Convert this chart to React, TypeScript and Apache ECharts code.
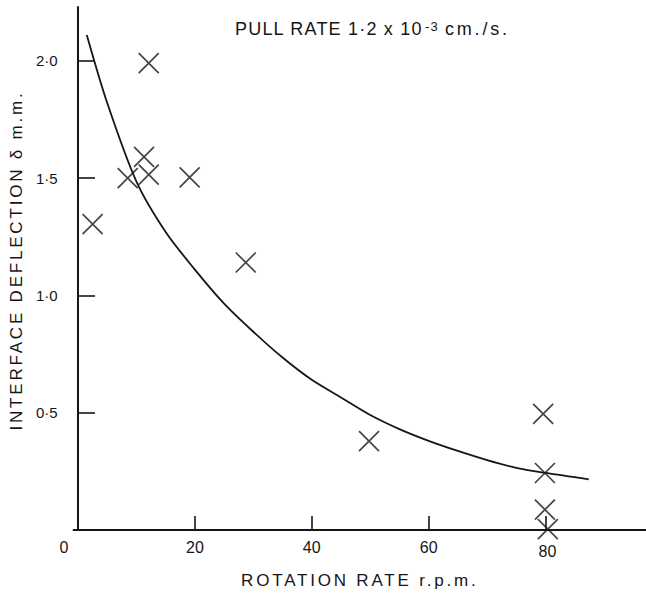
import React, { useEffect, useRef } from 'react';
import * as echarts from 'echarts';

// ---- data ----
const xTickValues = [20, 40, 60, 80];
const xLabelValues = [0, 20, 40, 60, 80];
const yTickValues = [0.5, 1.0, 1.5, 2.0];

const pointX = [12.1, 11.3, 8.5, 12.1, 19.1, 2.5, 28.7, 49.8, 79.6, 79.9, 79.9, 80.4];
const pointY = [1.99, 1.59, 1.5, 1.515, 1.503, 1.304, 1.14, 0.379, 0.495, 0.243, 0.087, 0.004];

const curveX = [1.5, 5, 10, 15, 20, 25, 30, 35, 40, 45, 50, 55, 60, 65, 70, 75, 80, 87.4];
const curveY = [2.11, 1.82, 1.485, 1.27, 1.11, 0.965, 0.845, 0.735, 0.64, 0.565, 0.49, 0.43, 0.38, 0.337, 0.298, 0.265, 0.243, 0.216];

const titleMain = 'PULL RATE 1·2 x 10';
const titleSup = '-3';
const titleUnit = 'cm./s.';
const xName = 'ROTATION RATE r.p.m.';
const yName = 'INTERFACE DEFLECTION δ m.m.';

const INK = '#161616';
const FONT = 'Liberation Sans';
const TITLE_FONT = 'Liberation Sans, Arimo';
const NAME_FONT = 'Liberation Sans, Tinos';

const css = `
svg text[style*="Arimo"], svg text[font-family*="Arimo"] { letter-spacing: 1.2px; }
svg text[style*="Tinos"], svg text[font-family*="Tinos"] { letter-spacing: 2.8px; }
`;

export default function App() {
  const ref = useRef<HTMLDivElement>(null);
  useEffect(() => {
    const chart = echarts.init(ref.current as HTMLDivElement, null, { renderer: 'svg' });
    const points = pointX.map((x, i) => [x, pointY[i]]);
    const curve = curveX.map((x, i) => [x, curveY[i]]);
    const titlePiece = (text: string, x: number, y: number, size: number, family: string) => ({
      type: 'text',
      x,
      y,
      silent: true,
      style: {
        text,
        fontSize: size,
        fontFamily: family,
        fill: INK,
        textAlign: 'left',
        textVerticalAlign: 'middle',
        align: 'left',
        verticalAlign: 'middle',
      },
    });
    chart.setOption({
      animation: false,
      backgroundColor: '#ffffff',
      grid: { left: 69, right: 0, top: 7, bottom: 63.2 },
      graphic: [
        titlePiece(titleMain, 235, 28.6, 18, TITLE_FONT),
        titlePiece(titleSup, 425, 26.6, 13, TITLE_FONT),
        titlePiece(titleUnit, 445, 28.6, 18, NAME_FONT),
      ],
      xAxis: {
        type: 'value',
        min: -0.76,
        max: 97.2,
        name: xName,
        nameLocation: 'middle',
        nameGap: 42,
        nameTextStyle: { fontSize: 17, fontFamily: NAME_FONT, color: INK },
        splitLine: { show: false },
        axisLine: { show: true, lineStyle: { color: INK, width: 2 } },
        axisTick: {
          show: true,
          inside: true,
          length: 14,
          customValues: xTickValues,
          lineStyle: { color: INK, width: 1.6 },
        },
        axisLabel: {
          customValues: xLabelValues,
          margin: 9,
          fontSize: 16,
          fontFamily: FONT,
          color: INK,
          formatter: (v: number) => (v === 0 ? '{z|0}' : v === 80 ? '{e|80}' : String(v)),
          rich: {
            z: { fontSize: 16, fontFamily: FONT, color: INK, padding: [0, 28, 0, 0] },
            e: { fontSize: 16, fontFamily: FONT, color: INK, padding: [4, 0, 0, 4] },
          },
        },
      },
      yAxis: {
        type: 'value',
        min: 0,
        max: 2.229,
        name: yName,
        nameLocation: 'middle',
        nameGap: 44,
        nameTextStyle: { fontSize: 17, fontFamily: NAME_FONT, color: INK, padding: [0, 0, 0, 16] },
        splitLine: { show: false },
        axisLine: { show: true, lineStyle: { color: INK, width: 2 } },
        axisTick: {
          show: true,
          inside: true,
          length: 17,
          customValues: yTickValues,
          lineStyle: { color: INK, width: 1.6 },
        },
        axisLabel: {
          customValues: yTickValues,
          margin: 16,
          fontSize: 15,
          fontFamily: FONT,
          color: INK,
          formatter: (v: number) => v.toFixed(1).replace('.', '·'),
        },
      },
      series: [
        {
          type: 'line',
          data: curve,
          smooth: 0.3,
          showSymbol: false,
          symbol: 'none',
          lineStyle: { color: INK, width: 1.8 },
          silent: true,
        },
        {
          type: 'scatter',
          data: points,
          symbol: 'path://M0 0L10 10M10 0L0 10',
          symbolSize: 20,
          itemStyle: { color: 'transparent', borderColor: INK, borderWidth: 1.7 },
          silent: true,
        },
      ],
    });
    return () => chart.dispose();
  }, []);
  return (
    <>
      <style>{css}</style>
      <div
        ref={ref}
        style={{ position: 'fixed', left: 0, top: 0, width: 646, height: 594, background: '#fff' }}
      />
    </>
  );
}
